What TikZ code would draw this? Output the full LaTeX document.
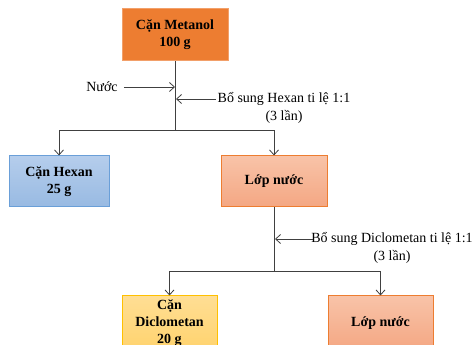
\documentclass[tikz,border=0pt]{standalone}
\usepackage{fontspec}
\setmainfont{Liberation Serif}
\usetikzlibrary{arrows.meta}

\definecolor{metanolfill}{HTML}{ED7D31}
\definecolor{metanolline}{HTML}{F2A06A}
\definecolor{hexantop}{HTML}{B5CDEC}
\definecolor{hexanbot}{HTML}{98BAE2}
\definecolor{hexanline}{HTML}{6A9FD8}
\definecolor{lactop}{HTML}{F8C3A8}
\definecolor{lacbot}{HTML}{F4A783}
\definecolor{lacline}{HTML}{ED7D31}
\definecolor{dcmtop}{HTML}{FFDE94}
\definecolor{dcmbot}{HTML}{FFD36E}
\definecolor{dcmline}{HTML}{FFC000}
\definecolor{connect}{HTML}{404040}

\begin{document}
\begin{tikzpicture}[x=1pt, y=-1pt,
    font=\fontsize{14}{18}\selectfont,
    stage/.style ={draw, line width=1pt, align=center, font=\fontsize{14}{17}\selectfont\bfseries},
    note/.style ={align=center, inner sep=0pt},
    arr/.style ={draw=connect, line width=0.8pt, -{Straight Barb[length=5pt, width=9pt]}},
    line/.style ={draw=connect, line width=0.8pt}]
   \useasboundingbox (0,0) rectangle (475,345);
   \clip (0,0) rectangle (475,345);

   \node[stage, fill=metanolfill, draw=metanolline, minimum width=106pt, minimum height=52pt] (metanol) at (175,35) {Cặn Metanol\\100 g};
   \node[stage, top color=hexantop, bottom color=hexanbot, draw=hexanline, minimum width=100pt, minimum height=51pt] (hexan) at (59,181.5) {Cặn Hexan\\25 g};
   \node[stage, top color=lactop, bottom color=lacbot, draw=lacline, minimum width=106pt, minimum height=51pt] (lop1) at (274,181.5) {Lớp nước};
   \node[stage, top color=dcmtop, bottom color=dcmbot, draw=dcmline, minimum width=95pt, minimum height=54pt] (dcm) at (169.5,323) {Cặn\\Diclometan\\20 g};
   \node[stage, top color=lactop, bottom color=lacbot, draw=lacline, minimum width=105pt, minimum height=54pt] (lop2) at (380.5,323) {Lớp nước};

   \node[note] (nuoc) at (102,87) {Nước};
   \node[note] (addhexan) at (284,108) {Bổ sung Hexan ti lệ 1:1\\(3 lần)};
   \node[note] (adddcm) at (392,248) {Bổ sung Diclometan ti lệ 1:1\\(3 lần)};

   \coordinate (in1) at (175,87);
   \coordinate (in2) at (176,99);
   \coordinate (split1) at (175,130);
   \coordinate (in3) at (275,239);
   \coordinate (split2) at (274,271);

   \draw[line] (metanol) to (split1);
   \draw[arr] (nuoc.east) ++(6,0) to (in1);
   \draw[arr] (in2 -| addhexan.west) ++(-2,0) to (in2);
   \draw[arr] (split1) -| (hexan.north);
   \draw[arr] (split1) -| (lop1.north);
   \draw[line] (lop1) to (split2);
   \draw[arr] (in3 -| adddcm.west) ++(2,0) to (in3);
   \draw[arr] (split2) -| (dcm.north);
   \draw[arr] (split2) -| (lop2.north);

 \end{tikzpicture}
\end{document}
